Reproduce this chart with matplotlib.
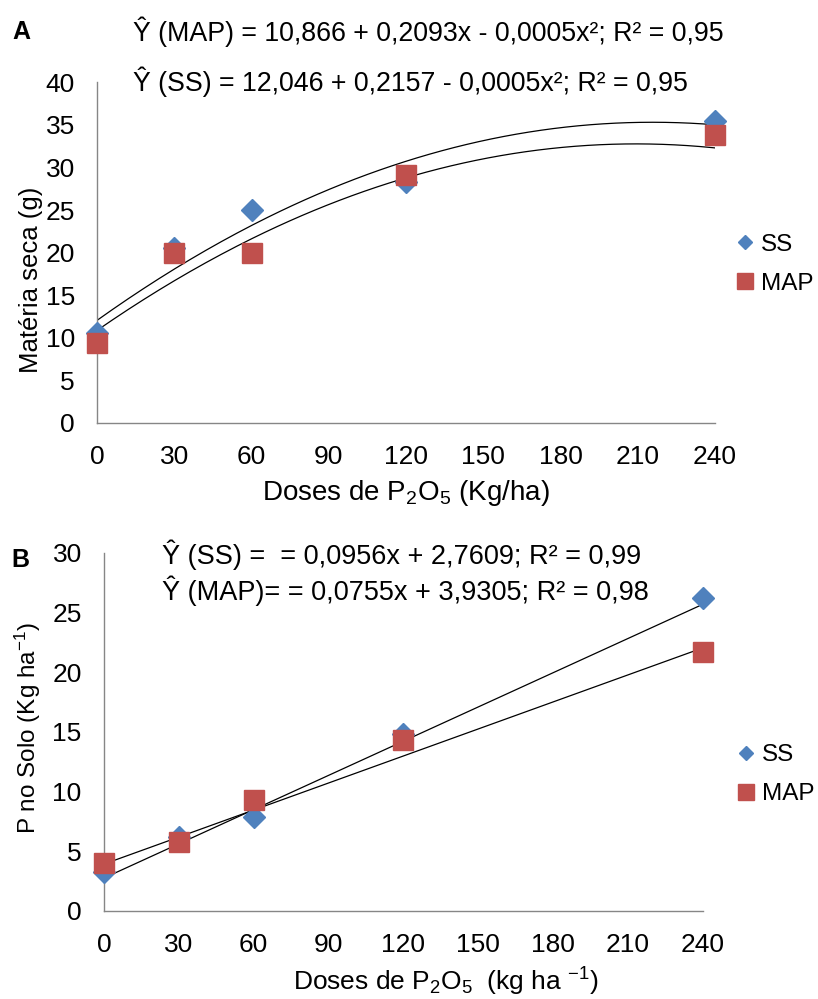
import numpy as np
from matplotlib import pyplot as plt
from matplotlib.lines import Line2D

plt.rcParams['font.family'] = ['Liberation Sans', 'DejaVu Sans']
plt.rcParams['mathtext.fontset'] = 'custom'
plt.rcParams['mathtext.rm'] = 'Liberation Sans'
plt.rcParams['mathtext.default'] = 'regular'

doses = [0, 30, 60, 120, 240]
xticks = [0, 30, 60, 90, 120, 150, 180, 210, 240]

# panel A - materia seca (g)
ss_a = [10.6, 20.6, 25.0, 28.3, 35.4]
map_a = [9.4, 20.0, 20.0, 29.1, 33.8]
coef_ss_a = [-0.0005, 0.2157, 12.046]
coef_map_a = [-0.0005, 0.2093, 10.866]

# panel B - P no solo
ss_b = [3.3, 6.2, 7.9, 14.8, 26.2]
map_b = [4.0, 5.8, 9.3, 14.3, 21.7]
coef_ss_b = [0.0956, 2.7609]
coef_map_b = [0.0755, 3.9305]

blue = '#4F81BD'
red = '#C0504D'
fs = 19

fig = plt.figure(figsize=(8.18, 9.99), dpi=100)


def style(ax, leg_x, leg_y):
    for s in ['top', 'right']:
        ax.spines[s].set_visible(False)
    for s in ['left', 'bottom']:
        ax.spines[s].set_color('#868686')
        ax.spines[s].set_linewidth(1)
    ax.tick_params(length=0, labelsize=fs)
    ax.tick_params(axis='x', pad=16)
    ax.tick_params(axis='y', pad=16)
    ax.set_xticks(xticks)
    ax.set_xlim(0, 240)
    handles = [Line2D([], [], marker='D', color=blue, ls='none', ms=7),
               Line2D([], [], marker='s', color=red, ls='none', ms=12)]
    ax.legend(handles, ['SS', 'MAP'], loc='center left', bbox_to_anchor=(leg_x, leg_y),
              frameon=False, fontsize=17.5, handlelength=0.7, handletextpad=0.3,
              labelspacing=0.7, borderaxespad=0)


xs = np.linspace(0, 240, 200)

# ---- A ----
ax1 = fig.add_axes([0.1186, 0.5766, 0.7555, 0.341])
ax1.plot(xs, np.polyval(coef_ss_a, xs), color='black', lw=0.9)
ax1.plot(xs, np.polyval(coef_map_a, xs), color='black', lw=0.9)
ax1.plot(doses, ss_a, 'D', color=blue, ms=11, ls='none', zorder=3, clip_on=False)
ax1.plot(doses, map_a, 's', color=red, ms=14, ls='none', zorder=3, clip_on=False)
ax1.set_ylim(0, 40)
ax1.set_yticks(range(0, 41, 5))
ax1.set_ylabel('Matéria seca (g)', fontsize=18.5)
ax1.yaxis.set_label_coords(-0.087, 0.42)
ax1.set_xlabel('Doses de P$_2$O$_5$ (Kg/ha)', fontsize=20, labelpad=6)
style(ax1, 1.019, 0.466)

fig.text(0.0257, 0.968, 'A', fontsize=18, fontweight='bold', va='center', ha='center')
fig.text(0.1626, 0.968, 'Ŷ (MAP) = 10,866 + 0,2093x - 0,0005x²; R² = 0,95',
         fontsize=19.3, va='center')
fig.text(0.1626, 0.918, 'Ŷ (SS) = 12,046 + 0,2157 - 0,0005x²; R² = 0,95',
         fontsize=19.3, va='center')

# ---- B ----
ax2 = fig.add_axes([0.1271, 0.0881, 0.7323, 0.3584])
ax2.plot(xs, np.polyval(coef_ss_b, xs), color='black', lw=0.9)
ax2.plot(xs, np.polyval(coef_map_b, xs), color='black', lw=0.9)
ax2.plot(doses, ss_b, 'D', color=blue, ms=11, ls='none', zorder=3, clip_on=False)
ax2.plot(doses, map_b, 's', color=red, ms=14, ls='none', zorder=3, clip_on=False)
ax2.set_ylim(0, 30)
ax2.set_yticks(range(0, 31, 5))
ax2.set_ylabel('P no Solo (Kg ha$^{-1}$)', fontsize=17.5)
ax2.yaxis.set_label_coords(-0.102, 0.511)
ax2.set_xlabel('Doses de P$_2$O$_5$  (kg ha $^{-1}$)', fontsize=19)
ax2.xaxis.set_label_coords(0.571, -0.152)
style(ax2, 1.042, 0.38)

fig.text(0.0245, 0.4394, 'B', fontsize=18, fontweight='bold', va='center', ha='center')
fig.text(0.198, 0.4444, 'Ŷ (SS) =  = 0,0956x + 2,7609; R² = 0,99',
         fontsize=19.5, va='center')
fig.text(0.198, 0.409, 'Ŷ (MAP)= = 0,0755x + 3,9305; R² = 0,98',
         fontsize=19.5, va='center')

fig.savefig('out.png', dpi=100)
